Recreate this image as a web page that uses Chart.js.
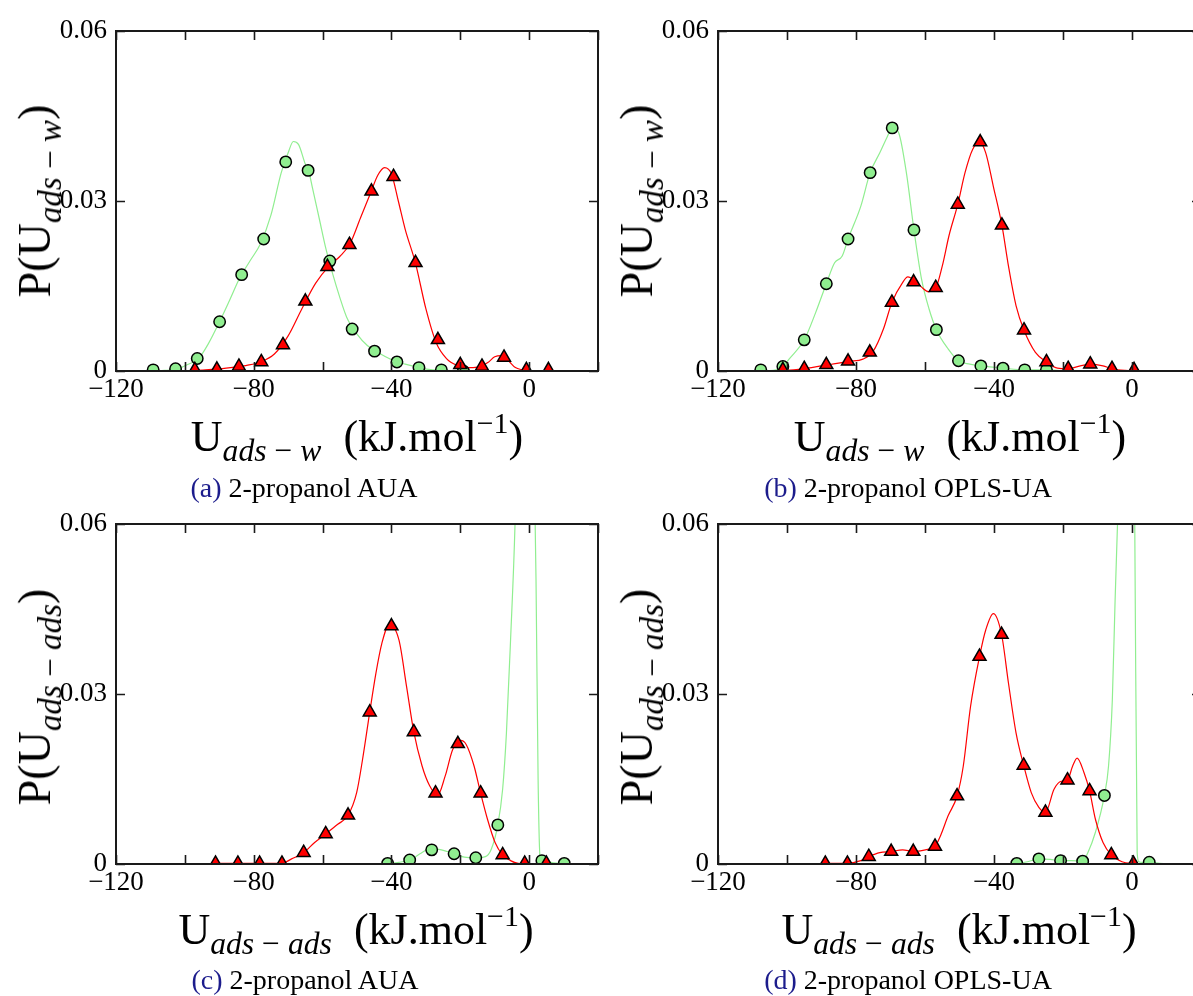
<!DOCTYPE html>
<html>
<head>
<meta charset="utf-8">
<script src="https://cdn.jsdelivr.net/npm/chart.js@4.4.1/dist/chart.umd.min.js"></script>
<style>
  body { margin: 0; width: 1193px; height: 996px; overflow: hidden; background: #fff; position: relative; font-family: 'Liberation Serif', 'DejaVu Serif', serif; color: #000; }
  canvas { position: absolute; }
  .xt, .yt, .cap { position: absolute; white-space: nowrap; line-height: 1; }
  .xt { font-size: 44px; transform: translate(-50%, -50%); }
  .yt { font-size: 46px; transform: translate(-50%, -50%) rotate(-90deg); }
  .cap { font-size: 28px; transform: translate(-50%, -50%); }
  .cap span { color: #1c1c8c; }
  sub { font-size: 0.72em; vertical-align: -0.32em; line-height: 0; }
  sup { font-size: 0.68em; vertical-align: 0.6em; line-height: 0; }
</style>
</head>
<body>
<canvas id="chartA" width="600" height="480" style="left:0;top:0"></canvas>
<canvas id="chartB" width="620" height="480" style="left:600px;top:0"></canvas>
<canvas id="chartC" width="600" height="480" style="left:0;top:493px"></canvas>
<canvas id="chartD" width="620" height="480" style="left:600px;top:493px"></canvas>

<div class="yt" style="left:35px;top:201px">P(U<sub><i>ads</i> − <i>w</i></sub>)</div>
<div class="yt" style="left:637px;top:201px">P(U<sub><i>ads</i> − <i>w</i></sub>)</div>
<div class="yt" style="left:35px;top:697px">P(U<sub><i>ads</i> − <i>ads</i></sub>)</div>
<div class="yt" style="left:637px;top:697px">P(U<sub><i>ads</i> − <i>ads</i></sub>)</div>

<div class="xt" style="left:357px;top:437px">U<sub><i>ads</i> − <i>w</i></sub>&nbsp; (kJ.mol<sup>−1</sup>)</div>
<div class="xt" style="left:960px;top:437px">U<sub><i>ads</i> − <i>w</i></sub>&nbsp; (kJ.mol<sup>−1</sup>)</div>
<div class="xt" style="left:356px;top:930px">U<sub><i>ads</i> − <i>ads</i></sub>&nbsp; (kJ.mol<sup>−1</sup>)</div>
<div class="xt" style="left:959px;top:930px">U<sub><i>ads</i> − <i>ads</i></sub>&nbsp; (kJ.mol<sup>−1</sup>)</div>

<div class="cap" style="left:304px;top:488px"><span>(a)</span> 2-propanol AUA</div>
<div class="cap" style="left:908px;top:488px"><span>(b)</span> 2-propanol OPLS-UA</div>
<div class="cap" style="left:305px;top:980px"><span>(c)</span> 2-propanol AUA</div>
<div class="cap" style="left:908px;top:980px"><span>(d)</span> 2-propanol OPLS-UA</div>

<script>
// ---- (a) 2-propanol AUA, U ads-w ----
const aGreenLineX = [-112, -106, -102, -99, -96, -93, -90, -87, -84, -81, -78, -75, -72, -70, -68.5, -67, -65, -64, -63, -61, -59, -57, -55, -53, -50, -47, -44, -40, -36, -32, -28, -24, -20];
const aGreenLineY = [0, 0.0001, 0.0004, 0.0012, 0.0022, 0.0050, 0.0086, 0.0125, 0.0165, 0.0195, 0.0225, 0.0275, 0.0350, 0.0385, 0.0405, 0.0400, 0.0365, 0.0352, 0.0325, 0.0270, 0.0215, 0.0170, 0.0130, 0.0095, 0.0065, 0.0045, 0.0033, 0.0020, 0.0012, 0.0006, 0.0002, 0.0001, 0];
const aRedLineX = [-100, -94, -88, -82, -78, -74, -70, -66, -62, -58, -55, -52, -49, -46, -44, -42, -40, -38, -36, -33, -30, -27, -24, -21, -18, -15, -12, -10, -8, -6, -4, -2, 0, 3, 6];
const aRedLineY = [0, 0.0002, 0.0005, 0.0010, 0.0016, 0.0030, 0.0062, 0.0110, 0.0155, 0.0186, 0.0202, 0.0225, 0.0270, 0.0315, 0.0345, 0.0359, 0.0348, 0.0300, 0.0250, 0.0190, 0.0110, 0.0050, 0.0022, 0.0010, 0.0006, 0.0007, 0.0015, 0.0025, 0.0027, 0.0018, 0.0006, 0.0002, 0, 0, 0];
const aGreenDotX = [-109.2, -102.7, -96.4, -89.9, -83.5, -77.1, -70.7, -64.2, -57.9, -51.4, -44.9, -38.4, -32.0, -25.5, -19.1];
const aGreenDotY = [0.0002, 0.0004, 0.0022, 0.0087, 0.0170, 0.0233, 0.0369, 0.0354, 0.0194, 0.0074, 0.0035, 0.0016, 0.0006, 0.0002, 0];
const aRedDotX = [-97.1, -90.7, -84.3, -77.8, -71.5, -65.0, -58.6, -52.2, -45.8, -39.4, -33.0, -26.5, -20.0, -13.7, -7.3, -0.8, 5.6];
const aRedDotY = [0.0002, 0.0003, 0.0008, 0.0016, 0.0046, 0.0123, 0.0184, 0.0223, 0.0317, 0.0343, 0.0191, 0.0055, 0.0011, 0.0008, 0.0024, 0.0002, 0.0002];

// ---- (b) 2-propanol OPLS-UA, U ads-w ----
const bGreenLineX = [-110, -104, -101.2, -99.4, -95, -91.7, -88.6, -86.2, -84, -82.3, -78.6, -75.9, -73.1, -70.9, -69.5, -67.6, -65.4, -63.2, -61, -58.8, -56.7, -53.3, -50.3, -47, -43.8, -37.4, -31.1, -24.8, -18];
const bGreenLineY = [0, 0.0001, 0.0008, 0.0021, 0.0055, 0.0103, 0.0154, 0.0191, 0.0203, 0.0233, 0.0291, 0.0350, 0.0385, 0.0414, 0.0430, 0.0420, 0.0350, 0.0249, 0.0162, 0.0109, 0.0073, 0.0039, 0.0018, 0.0012, 0.0009, 0.0005, 0.0002, 0.0002, 0];
const bRedLineX = [-102, -98, -94, -90, -86, -82, -78, -75, -72, -69.6, -66.5, -65, -63, -61, -59, -57, -55, -53, -50.5, -48.4, -46.2, -44.2, -42.4, -40.2, -37.7, -35.8, -33.6, -31.3, -28, -24.8, -21.6, -18.5, -15, -12, -8.4, -5.8, -2, 2, 5];
const bRedLineY = [0, 0.0002, 0.0005, 0.0009, 0.0013, 0.0017, 0.0021, 0.0035, 0.0075, 0.0121, 0.0156, 0.0166, 0.0160, 0.0148, 0.0140, 0.0145, 0.0185, 0.0240, 0.0294, 0.0350, 0.0391, 0.0404, 0.0385, 0.0326, 0.0257, 0.0185, 0.0115, 0.0072, 0.0033, 0.0016, 0.0005, 0.0004, 0.0009, 0.0012, 0.0009, 0.0004, 0.0001, 0, 0];
const bGreenDotX = [-107.6, -101.2, -95.0, -88.6, -82.3, -75.9, -69.5, -63.2, -56.7, -50.3, -43.8, -37.4, -31.1, -24.8];
const bGreenDotY = [0.0002, 0.0008, 0.0055, 0.0154, 0.0233, 0.0350, 0.0429, 0.0249, 0.0073, 0.0018, 0.0009, 0.0005, 0.0002, 0.0002];
const bRedDotX = [-101.2, -95.0, -88.6, -82.3, -76.0, -69.6, -63.3, -56.9, -50.5, -44.0, -37.7, -31.3, -24.8, -18.5, -12.1, -5.8, 0.6];
const bRedDotY = [0.0002, 0.0004, 0.0011, 0.0017, 0.0033, 0.0121, 0.0157, 0.0147, 0.0294, 0.0404, 0.0257, 0.0072, 0.0016, 0.0004, 0.0012, 0.0004, 0.0002];

// ---- (c) 2-propanol AUA, U ads-ads ----
const cGreenLineX = [-43, -41.1, -37.8, -34.7, -31.7, -29.4, -28.3, -25.5, -21.8, -18.8, -15.5, -12.7, -11, -9.1, -7.7, -6.6, -5.4, -4.1, -3, -1, 1, 2, 2.6, 3.2, 3.7, 7, 10.2, 14];
const cGreenLineY = [0, 0.0001, 0.0003, 0.0007, 0.0018, 0.0026, 0.0027, 0.0025, 0.0018, 0.0012, 0.0011, 0.0013, 0.0026, 0.0069, 0.0132, 0.0231, 0.0395, 0.0600, 0.0900, 0.1200, 0.0900, 0.0500, 0.0150, 0.0010, 0.0006, 0.0002, 0.0001, 0];
const cRedLineX = [-92, -85, -78, -72, -69, -65.5, -62.3, -59.1, -55.6, -52.6, -50.1, -48.4, -46.3, -44.5, -42.8, -40.6, -37.8, -35.6, -33.5, -31.1, -28.9, -26.6, -24.4, -22.2, -19.9, -18.3, -16, -14.1, -12.1, -9.9, -7.7, -5.4, -3.2, 0, 5];
const cRedLineY = [0.0001, 0.0001, 0.0001, 0.0001, 0.0009, 0.0020, 0.0038, 0.0053, 0.0070, 0.0086, 0.0126, 0.0184, 0.0268, 0.0337, 0.0389, 0.0423, 0.0395, 0.0313, 0.0233, 0.0173, 0.0138, 0.0121, 0.0155, 0.0202, 0.0218, 0.0211, 0.0173, 0.0125, 0.0079, 0.0038, 0.0016, 0.0006, 0.0001, 0, 0];
const cGreenDotX = [-41.1, -34.7, -28.3, -21.8, -15.5, -9.1, 3.7, 10.2];
const cGreenDotY = [0.0001, 0.0007, 0.0025, 0.0018, 0.0011, 0.0069, 0.0006, 0.0001];
const cRedDotX = [-91.1, -84.6, -78.3, -71.8, -65.5, -59.1, -52.6, -46.3, -40.0, -33.5, -27.2, -20.7, -14.1, -7.7, -1.3, 5.0];
const cRedDotY = [0.0001, 0.0001, 0.0001, 0.0001, 0.0020, 0.0053, 0.0086, 0.0268, 0.0420, 0.0233, 0.0125, 0.0212, 0.0125, 0.0016, 0.0001, 0.0001];

// ---- (d) 2-propanol OPLS-UA, U ads-ads ----
const dGreenLineX = [-36, -33.4, -30.3, -27, -23.7, -20.7, -17.5, -14.3, -12.8, -10.6, -8, -6.8, -5.7, -4.9, -4.2, -3, -1.5, 0, 0.8, 1.5, 2.0, 3, 5, 8, 12];
const dGreenLineY = [0, 0.0001, 0.0004, 0.0009, 0.0008, 0.0006, 0.0006, 0.0005, 0.0020, 0.0056, 0.0121, 0.0173, 0.0290, 0.0465, 0.0600, 0.0850, 0.1100, 0.1000, 0.0600, 0.0020, 0.0004, 0.0003, 0.0003, 0.0001, 0];
const dRedLineX = [-90, -83, -78.6, -76.3, -73.1, -69.8, -66.5, -63.4, -59.9, -57.1, -55.5, -53.3, -50.7, -48.9, -46.8, -44.2, -42.4, -40.2, -37.8, -35.8, -33.6, -31.4, -29.2, -27, -25.1, -22.6, -20.5, -18.7, -17.2, -15.9, -13.9, -12.3, -10.6, -8.4, -6, -2.9, 0.4, 4];
const dRedLineY = [0.0001, 0.0001, 0.0006, 0.0013, 0.0020, 0.0022, 0.0025, 0.0022, 0.0025, 0.0031, 0.0050, 0.0085, 0.0120, 0.0173, 0.0278, 0.0366, 0.0413, 0.0442, 0.0405, 0.0319, 0.0231, 0.0174, 0.0126, 0.0100, 0.0091, 0.0132, 0.0146, 0.0148, 0.0173, 0.0187, 0.0161, 0.0129, 0.0079, 0.0038, 0.0016, 0.0004, 0.0001, 0];
const dGreenDotX = [-33.4, -27.0, -20.7, -14.3, -8.0, 5.0];
const dGreenDotY = [0.0001, 0.0009, 0.0006, 0.0005, 0.0121, 0.0003];
const dRedDotX = [-88.9, -82.5, -76.3, -69.8, -63.4, -57.1, -50.7, -44.2, -37.8, -31.4, -25.1, -18.7, -12.3, -6.0, 0.4];
const dRedDotY = [0.0001, 0.0001, 0.0013, 0.0022, 0.0022, 0.0031, 0.0120, 0.0366, 0.0405, 0.0174, 0.0091, 0.0148, 0.0129, 0.0016, 0.0001];

// axis ranges and tick labels
const xRange = [-120, 20];
const yRange = [0, 0.06];
const xLabelled = [-120, -80, -40, 0];

const GREEN = '#90ee90';
const RED = '#ff0000';

function pts(xs, ys) {
    return xs.map((x, i) => ({ x: x, y: ys[i] }));
}

// frame + inward tick marks on all four sides
const frameTicks = {
    id: 'frameTicks',
    afterDraw(chart) {
        const { ctx, chartArea: a, scales: { x, y } } = chart;
        ctx.save();
        ctx.strokeStyle = '#1a1a1a';
        ctx.lineWidth = 1.6;
        ctx.beginPath();
        x.ticks.forEach(t => {
            const px = Math.round(x.getPixelForValue(t.value)) + 0.5;
            ctx.moveTo(px, a.bottom); ctx.lineTo(px, a.bottom - 9);
            ctx.moveTo(px, a.top); ctx.lineTo(px, a.top + 9);
        });
        y.ticks.forEach(t => {
            const py = Math.round(y.getPixelForValue(t.value)) + 0.5;
            ctx.moveTo(a.left, py); ctx.lineTo(a.left + 9, py);
            ctx.moveTo(a.right, py); ctx.lineTo(a.right - 9, py);
        });
        ctx.stroke();
        ctx.lineWidth = 2;
        ctx.strokeRect(a.left, a.top, a.width, a.height);
        ctx.restore();
    }
};

function drawPanel(id, yWidth, padRight, s) {
    const ctx = document.getElementById(id);
    new Chart(ctx, {
        type: 'scatter',
        data: {
            datasets: [
                {
                    data: pts(s.redDotX, s.redDotY),
                    pointStyle: 'triangle',
                    pointRadius: 7.5,
                    backgroundColor: RED,
                    borderColor: '#000',
                    borderWidth: 1.5,
                    clip: 0
                },
                {
                    data: pts(s.greenDotX, s.greenDotY),
                    pointStyle: 'circle',
                    pointRadius: 5.7,
                    backgroundColor: GREEN,
                    borderColor: '#000',
                    borderWidth: 1.5,
                    clip: 0
                },
                {
                    data: pts(s.redLineX, s.redLineY),
                    showLine: true,
                    pointRadius: 0,
                    borderColor: RED,
                    borderWidth: 1.2,
                    cubicInterpolationMode: 'monotone',
                    clip: 0
                },
                {
                    data: pts(s.greenLineX, s.greenLineY),
                    showLine: true,
                    pointRadius: 0,
                    borderColor: GREEN,
                    borderWidth: 1.2,
                    cubicInterpolationMode: 'monotone',
                    clip: 0
                }
            ]
        },
        options: {
            responsive: false,
            animation: false,
            events: [],
            layout: {
                autoPadding: false,
                padding: { top: 31, right: padRight, left: 0, bottom: 69 }
            },
            plugins: {
                legend: { display: false },
                tooltip: { enabled: false }
            },
            scales: {
                x: {
                    type: 'linear',
                    min: xRange[0],
                    max: xRange[1],
                    grid: { display: false, drawTicks: false },
                    border: { display: false },
                    afterFit: function(scale) {
                        scale.height = 40;
                        scale.paddingLeft = 0;
                        scale.paddingRight = 0;
                    },
                    ticks: {
                        stepSize: 20,
                        padding: 3,
                        maxRotation: 0,
                        autoSkip: false,
                        color: '#000',
                        font: { family: "'Liberation Serif', serif", size: 27 },
                        callback: function(v) {
                            return xLabelled.includes(v) ? String(v).replace('-', '\u2212') : '';
                        }
                    }
                },
                y: {
                    min: yRange[0],
                    max: yRange[1],
                    grid: { display: false, drawTicks: false },
                    border: { display: false },
                    afterFit: function(scale) { scale.width = yWidth; },
                    ticks: {
                        stepSize: 0.03,
                        padding: 9,
                        color: '#000',
                        font: { family: "'Liberation Serif', serif", size: 27 },
                        callback: function(v) {
                            return v === 0 ? '0' : v.toFixed(2);
                        }
                    }
                }
            }
        },
        plugins: [frameTicks]
    });
}

drawPanel('chartA', 116, 2, {
    greenLineX: aGreenLineX, greenLineY: aGreenLineY, redLineX: aRedLineX, redLineY: aRedLineY,
    greenDotX: aGreenDotX, greenDotY: aGreenDotY, redDotX: aRedDotX, redDotY: aRedDotY
});
drawPanel('chartB', 118, 19, {
    greenLineX: bGreenLineX, greenLineY: bGreenLineY, redLineX: bRedLineX, redLineY: bRedLineY,
    greenDotX: bGreenDotX, greenDotY: bGreenDotY, redDotX: bRedDotX, redDotY: bRedDotY
});
drawPanel('chartC', 116, 2, {
    greenLineX: cGreenLineX, greenLineY: cGreenLineY, redLineX: cRedLineX, redLineY: cRedLineY,
    greenDotX: cGreenDotX, greenDotY: cGreenDotY, redDotX: cRedDotX, redDotY: cRedDotY
});
drawPanel('chartD', 118, 19, {
    greenLineX: dGreenLineX, greenLineY: dGreenLineY, redLineX: dRedLineX, redLineY: dRedLineY,
    greenDotX: dGreenDotX, greenDotY: dGreenDotY, redDotX: dRedDotX, redDotY: dRedDotY
});
</script>
</body>
</html>
